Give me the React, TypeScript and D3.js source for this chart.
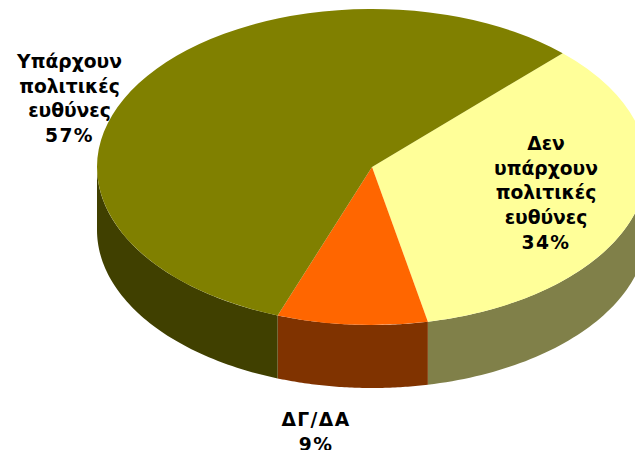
import React from "react";
import * as d3 from "d3";

const categories = ["Δεν υπάρχουν πολιτικές ευθύνες", "ΔΓ/ΔΑ", "Υπάρχουν πολιτικές ευθύνες"];
const values = [34.55, 8.83, 56.62];
const topColors = ["#FFFF99", "#FF6600", "#808000"];
const sideColors = ["#808049", "#803300", "#404000"];
const labelLines = [
  ["Δεν", "υπάρχουν", "πολιτικές", "ευθύνες", "34%"],
  ["ΔΓ/ΔΑ", "9%"],
  ["Υπάρχουν", "πολιτικές", "ευθύνες", "57%"],
];
const labelAnchors = [
  { x: 546, y: 150, dy: 24.7 },
  { x: 316, y: 426, dy: 24.5 },
  { x: 69.5, y: 68, dy: 24.7 },
];
const wideLines = ["34%", "57%", "9%", "ΔΓ/ΔΑ"];

const W = 635, H = 450;
const cx = 372, cy = 167, rx = 275, ry = 158, depth = 63;
const startDeg = 43.9;

export default function App() {
  const start = (startDeg * Math.PI) / 180;
  const pie = d3.pie<number>().sort(null).startAngle(start).endAngle(start + 2 * Math.PI);
  const arcs = pie(values);
  const arc = d3.arc<d3.PieArcDatum<number>>().innerRadius(0).outerRadius(rx);
  const px = (a: number) => cx + rx * Math.sin(a);
  const py = (a: number) => cy - ry * Math.cos(a);

  const wall = (a0: number, a1: number) => {
    const lo = Math.max(a0, Math.PI / 2);
    const hi = Math.min(a1, (3 * Math.PI) / 2);
    if (hi <= lo) return null;
    const pts = d3.range(0, 61).map((i) => lo + ((hi - lo) * i) / 60);
    const line = d3.line<[number, number]>();
    const upper = pts.map((a) => [px(a), py(a)] as [number, number]);
    const lower = pts.slice().reverse().map((a) => [px(a), py(a) + depth] as [number, number]);
    return line([...upper, ...lower]) + "Z";
  };

  return (
    <svg width={W} height={H} viewBox={`0 0 ${W} ${H}`}
      style={{ position: "absolute", left: 0, top: 0, background: "#fff" }}>
      {arcs.map((d, i) => {
        const p = wall(d.startAngle, d.endAngle) ?? wall(d.startAngle - 2 * Math.PI, d.endAngle - 2 * Math.PI);
        return p ? <path key={categories[i]} d={p} fill={sideColors[i]} /> : null;
      })}
      <g transform={`translate(${cx},${cy}) scale(1,${ry / rx})`}>
        {arcs.map((d, i) => (
          <path key={categories[i]} d={arc(d) ?? ""} fill={topColors[i]} />
        ))}
      </g>
      {labelLines.map((lines, i) => (
        <text key={categories[i]} textAnchor="middle"
          fontFamily="'DejaVu Sans', Verdana, sans-serif" fontWeight="bold" fontSize={18.7} fill="#000">
          {lines.map((t, j) => (
            <tspan key={j} x={labelAnchors[i].x} y={labelAnchors[i].y + j * labelAnchors[i].dy}
              letterSpacing={wideLines.includes(t) ? 1.4 : 0}>{t}</tspan>
          ))}
        </text>
      ))}
    </svg>
  );
}
